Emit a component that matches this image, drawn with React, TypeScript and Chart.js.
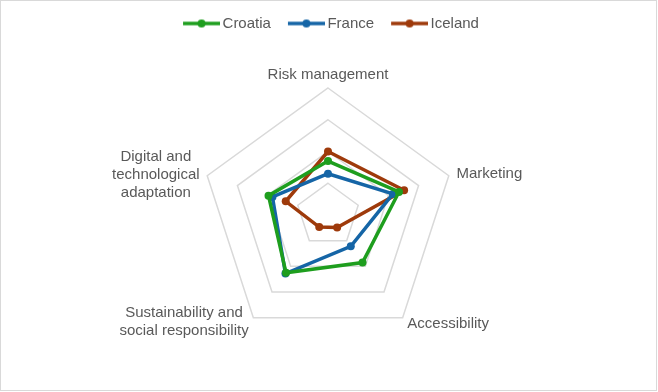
import React, { useEffect, useRef } from "react";
import { Chart, registerables } from "chart.js";

Chart.register(...registerables);

const categories: (string | string[])[] = [
  "Risk management",
  "Marketing",
  "Accessibility",
  ["Sustainability and", "social responsibility"],
  ["Digital and", "technological", "adaptation"],
];

const croatia = [1.7, 2.35, 1.85, 2.25, 1.97];
const france = [1.3, 2.15, 1.22, 2.28, 1.84];
const iceland = [2.0, 2.52, 0.49, 0.47, 1.4];

const seriesNames = ["Croatia", "France", "Iceland"];
const seriesColors = ["#1E9E1E", "#1565A6", "#9E3A0B"];

const FONT = "'Liberation Sans', Arial, sans-serif";
const TEXT = "#595959";
// vertical offset of each label block centre from its outer vertex
const labelOffsetY = [-13, -2, 6, 4, -1];

function makeLegendIcon(color: string): HTMLCanvasElement {
  const c = document.createElement("canvas");
  c.width = 47;
  c.height = 10;
  const ctx = c.getContext("2d")!;
  ctx.strokeStyle = color;
  ctx.lineWidth = 3.5;
  ctx.beginPath();
  ctx.moveTo(10, 5);
  ctx.lineTo(47, 5);
  ctx.stroke();
  ctx.fillStyle = color;
  ctx.beginPath();
  ctx.arc(28.5, 5, 4, 0, Math.PI * 2);
  ctx.fill();
  return c;
}

const legendSpace = {
  id: "legendSpace",
  beforeInit(chart: any) {
    const lg = chart.legend;
    if (lg && !lg._patched) {
      const orig = lg.fit;
      lg.fit = function () {
        orig.call(this);
        this.height += 16;
      };
      lg._patched = true;
    }
  },
};

const centeredLabels = {
  id: "centeredLabels",
  afterDraw(chart: any) {
    const scale = chart.scales.r;
    const ctx = chart.ctx;
    ctx.save();
    ctx.font = `15px ${FONT}`;
    ctx.fillStyle = TEXT;
    ctx.textAlign = "center";
    ctx.textBaseline = "middle";
    const lh = 18;
    categories.forEach((lab, i) => {
      const pos = scale.getPointLabelPosition(i);
      const v = scale.getPointPosition(i, scale.drawingArea);
      const lines = Array.isArray(lab) ? lab : [lab];
      const cx = (pos.left + pos.right) / 2;
      const cy = v.y + labelOffsetY[i];
      const top = cy - (lines.length * lh) / 2;
      lines.forEach((ln, j) => {
        ctx.fillText(ln, cx, top + lh / 2 + j * lh);
      });
    });
    ctx.restore();
  },
};

export default function App() {
  const ref = useRef<HTMLCanvasElement | null>(null);

  useEffect(() => {
    if (!ref.current) return;
    const data = [croatia, france, iceland];
    const icons = seriesColors.map(makeLegendIcon);
    const chart = new Chart(ref.current, {
      type: "radar",
      data: {
        labels: categories,
        datasets: seriesNames.map((name, i) => ({
          label: name,
          data: data[i],
          borderColor: seriesColors[i],
          backgroundColor: seriesColors[i],
          borderWidth: 3.5,
          pointRadius: 4,
          pointBorderWidth: 0,
          pointBackgroundColor: seriesColors[i],
          pointStyle: "circle",
          fill: false,
        })),
      },
      plugins: [legendSpace, centeredLabels],
      options: {
        animation: false,
        responsive: false,
        maintainAspectRatio: false,
        layout: { padding: { top: 3, bottom: 26, left: 40, right: 40 } },
        plugins: {
          tooltip: { enabled: false },
          legend: {
            position: "top",
            labels: {
              usePointStyle: true,
              pointStyleWidth: 37,
              boxHeight: 10,
              padding: 12,
              color: TEXT,
              font: { family: FONT, size: 15 },
              generateLabels: (ch: any) =>
                ch.data.datasets.map((ds: any, i: number) => ({
                  text: ds.label,
                  fillStyle: seriesColors[i],
                  strokeStyle: seriesColors[i],
                  lineWidth: 0,
                  pointStyle: icons[i],
                  hidden: false,
                  datasetIndex: i,
                  fontColor: TEXT,
                })),
            },
          },
        },
        scales: {
          r: {
            min: 0,
            max: 4,
            ticks: { stepSize: 1, display: false },
            grid: { color: "#D9D9D9", lineWidth: 1.5 },
            angleLines: { display: false },
            pointLabels: {
              color: "rgba(0,0,0,0)",
              padding: 8,
              font: { family: FONT, size: 15 },
            },
          },
        },
      },
    });
    return () => chart.destroy();
  }, []);

  return (
    <div
      style={{
        position: "fixed",
        left: 0,
        top: 0,
        width: 657,
        height: 391,
        boxSizing: "border-box",
        border: "1px solid #D9D9D9",
        background: "#fff",
      }}
    >
      <canvas ref={ref} width={655} height={389} style={{ display: "block" }} />
    </div>
  );
}
